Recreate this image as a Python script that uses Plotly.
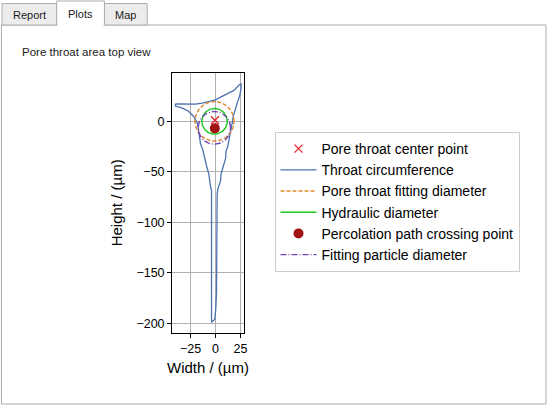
import numpy as np
import plotly.graph_objects as go

# ---------------- data ----------------
throat_x = [-40, -30, -20, -13.4, -6.7, 0, 6.6, 13.3, 18.3, 24, 25.6, 25.3, 24, 21.6, 19.3, 17.6,
            16.6, 15, 13.3, 12, 10.6, 10, 7.6, 5.6, 5, 3.3, 2.3, 1.6, 1.6, 1.6, 1, 0.3, 0,
            -0.7, -1.7, -4, -4, -4, -5, -6, -6.7, -9, -11, -12.5, -15, -16, -17, -18, -22,
            -27, -33, -40, -40]
throat_y = [17.3, 17, 17, 18, 19.6, 21.3, 24.6, 28, 30.6, 36.3, 37, 31.3, 24.6, 18, 11.3, 4.6,
            -2, -10.4, -18.7, -26, -29, -37, -45, -52, -59, -64, -67, -72, -110, -149, -169, -185, -194,
            -196, -197, -199, -119, -68, -65, -59, -52, -44, -35, -29, -22, -15, -9, -2, 5,
            10, 13, 15, 17.3]

center_point = (-0.5, 1.0)          # pore throat center point
crossing_point = (-0.7, -7.0)       # percolation path crossing point

circle_names = ["Pore throat fitting diameter", "Hydraulic diameter", "Fitting particle diameter"]
circle_cx = [-1.0, -1.0, -1.2]
circle_cy = [0.0, 0.0, -6.5]
circle_r = [19.5, 12.7, 16.2]
circle_colors = ["#e0892d", "#1ec81e", "#6f45b0"]
circle_dash = ["4px,2px", "solid", "6px,2px,1px,2px"]
circle_rank = [3, 4, 6]

x_ticks = [-25, 0, 25]
y_ticks = [0, -50, -100, -150, -200]

W, H = 552, 406

def px(x):
    return x / W

def py(y):
    return 1 - y / H

fig = go.Figure()

fig.add_trace(go.Scatter(x=throat_x, y=throat_y, mode="lines", name="Throat circumference",
                         line=dict(color="#4c72b0", width=1.3), legendrank=2))

t = np.linspace(0, 2 * np.pi, 181)
for name, cx, cy, r, c, d, rk in zip(circle_names, circle_cx, circle_cy, circle_r,
                                     circle_colors, circle_dash, circle_rank):
    fig.add_trace(go.Scatter(x=cx + r * np.cos(t), y=cy + r * np.sin(t), mode="lines", name=name,
                             line=dict(color=c, width=1.4, dash=d), legendrank=rk))

fig.add_trace(go.Scatter(x=[crossing_point[0]], y=[crossing_point[1]], mode="markers",
                         name="Percolation path crossing point",
                         marker=dict(color="#a01414", size=10), legendrank=5))
fig.add_trace(go.Scatter(x=[center_point[0]], y=[center_point[1]], mode="markers",
                         name="Pore throat center point",
                         marker=dict(color="#e8202a", size=8, symbol="x-thin",
                                     line=dict(color="#e8202a", width=1.3)), legendrank=1))

axis_common = dict(showline=True, linecolor="black", linewidth=1, mirror=True,
                   ticks="outside", ticklen=4, tickcolor="black", tickwidth=1,
                   showgrid=True, gridcolor="#b0b0b0", gridwidth=0.8, zeroline=False,
                   tickfont=dict(family="Liberation Sans, Arial", size=12.5, color="black"))

fig.update_layout(
    width=W, height=H,
    margin=dict(l=0, r=0, t=0, b=0),
    paper_bgcolor="white", plot_bgcolor="white",
    xaxis=dict(domain=[px(173), px(245.7)], range=[-43.4, 28.8], tickvals=x_ticks, **axis_common),
    yaxis=dict(domain=[py(333), py(73)], range=[-209.6, 47.8], tickvals=y_ticks, **axis_common),
    legend=dict(x=px(276), y=py(132), xanchor="left", yanchor="top",
                bordercolor="#cccccc", borderwidth=1, bgcolor="white",
                font=dict(family="Liberation Sans, Arial", size=14, color="black"),
                itemwidth=36, traceorder="normal"),
    showlegend=True,
)

# ---------- UI frame (tabs + panel) ----------
shapes = []
gray_line = "#adadad"
shapes.append(dict(type="rect", xref="paper", yref="paper", x0=px(1.5), x1=px(549), y0=py(404), y1=py(25),
                   line=dict(color=gray_line, width=1), fillcolor="rgba(0,0,0,0)", layer="below"))
shapes.append(dict(type="rect", xref="paper", yref="paper", x0=px(2), x1=px(57), y0=py(25), y1=py(3.5),
                   line=dict(color=gray_line, width=1), fillcolor="#ececec", layer="below"))
shapes.append(dict(type="rect", xref="paper", yref="paper", x0=px(105), x1=px(148), y0=py(25), y1=py(3.5),
                   line=dict(color=gray_line, width=1), fillcolor="#ececec", layer="below"))
shapes.append(dict(type="rect", xref="paper", yref="paper", x0=px(57), x1=px(105), y0=py(25), y1=py(1),
                   line=dict(color=gray_line, width=1), fillcolor="white", layer="below"))
shapes.append(dict(type="line", xref="paper", yref="paper", x0=px(57.8), x1=px(104.2), y0=py(25), y1=py(25),
                   line=dict(color="white", width=2), layer="below"))
fig.update_layout(shapes=shapes)

ui_font = dict(family="Liberation Sans, Arial", size=11, color="#1a1a1a")

def label(text, x, y, font, xanchor="center", angle=0):
    return dict(text=text, x=px(x), y=py(y), xref="paper", yref="paper", showarrow=False,
                xanchor=xanchor, yanchor="middle", textangle=angle, font=font)

ann = [
    label("Report", 29.5, 15, ui_font),
    label("Plots", 81, 13.5, ui_font),
    label("Map", 126.5, 15, ui_font),
    label("Pore throat area top view", 20, 52.5,
          dict(family="Liberation Sans, Arial", size=11.5, color="#1a1a1a"), xanchor="left"),
    label("Width / (µm)", 209.3, 367, dict(family="Liberation Sans, Arial", size=15, color="black")),
    label("Height / (µm)", 117, 203, dict(family="Liberation Sans, Arial", size=15, color="black"), angle=-90),
]
fig.update_layout(annotations=ann)

fig.write_html("out.html", config={"displayModeBar": False},
               post_script="document.body.style.margin='0';document.body.style.overflow='hidden';")
